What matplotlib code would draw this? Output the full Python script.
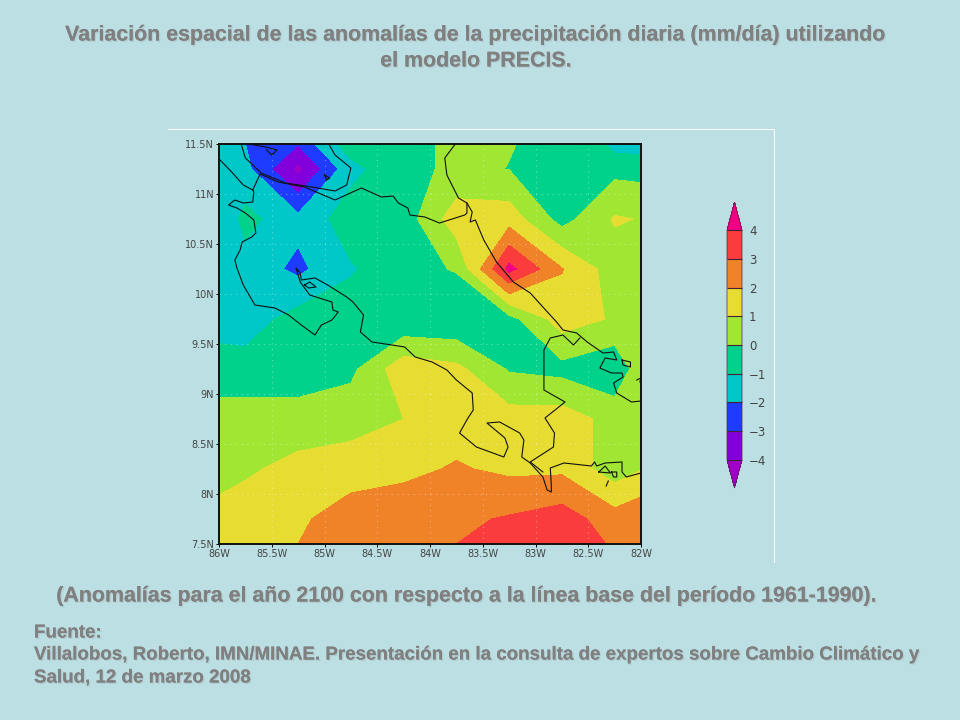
import matplotlib
matplotlib.use('Agg')
import matplotlib.pyplot as plt
import matplotlib.patheffects as pe
from matplotlib.lines import Line2D
import numpy as np

# model grid, degrees west / north
lons = [86.25, 85.75, 85.25, 84.75, 84.25, 83.75, 83.25, 82.75, 82.25, 81.75]
lats = [11.75, 11.25, 10.75, 10.25, 9.75, 9.25, 8.75, 8.25, 7.75, 7.25]

# precipitation anomaly (mm/day), north to south
anom_1175 = [-1.5, -2.3, -1.6, 0.2, -0.3, 0.2, 0.1, -0.2, -2.5, -2.8]
anom_1125 = [-1.4, -1.7, -4.3, -1.3, -0.3, 0.2, -0.02, -0.6, -0.3, -0.4]
anom_1075 = [-3.0, -0.7, -1.7, -0.5, -0.55, 1.55, 1.55, -0.4, 1.1, 0.8]
anom_1025 = [-1.7, -1.4, -2.24, -1.1, -0.4, 0.08, 4.3, 2.05, 0.48, 0.5]
anom_975 = [-1.3, -1.5, -0.6, -0.5, -0.9, -0.9, -0.35, 1.5, 0.88, 0.5]
anom_925 = [-0.6, -0.6, -0.6, -0.25, 1.65, 1.25, -0.1, -0.33, -0.8, 2.0]
anom_875 = [0.45, 0.45, 0.45, 0.62, 1.0, 1.5, 1.43, 1.5, 0.64, 0.5]
anom_825 = [0.55, 0.85, 1.3, 1.47, 1.75, 2.1, 1.8, 1.8, 0.44, 1.44]
anom_775 = [1.1, 1.5, 1.8, 2.57, 2.64, 2.8, 3.1, 3.5, 2.44, 3.07]
anom_725 = [1.3, 1.7, 2.2, 2.8, 2.9, 3.2, 3.7, 3.7, 3.2, 3.0]

levels = [-4, -3, -2, -1, 0, 1, 2, 3, 4]
level_labels = ['\u22124', '\u22123', '\u22122', '\u22121', '0', '1', '2', '3', '4']
colors = ['#A000C8', '#8200DC', '#1E3CFF', '#00C8C8', '#00D28C',
          '#A0E632', '#E6DC32', '#F08228', '#FA3C3C', '#F00082']

x_ticks = [86, 85.5, 85, 84.5, 84, 83.5, 83, 82.5, 82]
x_labels = ['86W', '85.5W', '85W', '84.5W', '84W', '83.5W', '83W', '82.5W', '82W']
y_ticks = [7.5, 8, 8.5, 9, 9.5, 10, 10.5, 11, 11.5]
y_labels = ['7.5N', '8N', '8.5N', '9N', '9.5N', '10N', '10.5N', '11N', '11.5N']

# map outlines as (lon W, lat N) pairs
pacific_coast = [(85.99, 11.34), (85.88, 11.22), (85.77, 11.09), (85.68, 11.04), (85.67, 11.02),
                 (85.68, 10.92), (85.77, 10.91), (85.85, 10.94), (85.91, 10.89), (85.83, 10.86),
                 (85.75, 10.81), (85.67, 10.74), (85.65, 10.61), (85.69, 10.57), (85.78, 10.52),
                 (85.80, 10.44), (85.85, 10.34), (85.83, 10.26), (85.77, 10.09), (85.66, 9.89),
                 (85.47, 9.86), (85.34, 9.79), (85.22, 9.69), (85.09, 9.59), (85.03, 9.69),
                 (84.93, 9.74), (84.87, 9.82), (84.92, 9.84), (84.93, 9.92), (85.14, 9.99),
                 (85.23, 10.12), (85.25, 10.19), (85.27, 10.26), (85.23, 10.21), (85.22, 10.14),
                 (85.09, 10.16), (84.97, 10.09), (84.79, 9.97), (84.73, 9.92), (84.63, 9.79),
                 (84.66, 9.62), (84.55, 9.52), (84.36, 9.49), (84.24, 9.47), (84.14, 9.37),
                 (83.98, 9.32), (83.84, 9.24), (83.75, 9.14), (83.60, 9.01), (83.59, 8.84),
                 (83.64, 8.76), (83.72, 8.61), (83.56, 8.47), (83.30, 8.37), (83.26, 8.47),
                 (83.29, 8.56), (83.46, 8.71), (83.34, 8.72), (83.15, 8.61), (83.11, 8.54),
                 (83.13, 8.37), (83.05, 8.31), (82.93, 8.17), (82.89, 8.04), (82.85, 8.02),
                 (82.85, 8.09), (82.86, 8.26), (82.73, 8.31), (82.47, 8.28), (82.44, 8.32),
                 (82.42, 8.28), (82.34, 8.31), (82.18, 8.32), (82.18, 8.22), (82.14, 8.17),
                 (82.0, 8.21)]
panama_border = [(82.93, 8.22), (83.05, 8.32), (82.83, 8.47), (82.82, 8.61), (82.91, 8.76),
                 (82.72, 8.92), (82.92, 9.04), (82.92, 9.44), (82.86, 9.56), (82.74, 9.59),
                 (82.64, 9.49), (82.58, 9.56)]
caribbean_coast = [(83.76, 11.5), (83.86, 11.36), (83.84, 11.19), (83.73, 10.96), (83.65, 10.91),
                   (83.60, 10.82), (83.62, 10.72), (83.57, 10.74), (83.49, 10.54), (83.37, 10.32),
                   (83.21, 10.12), (83.05, 10.01), (82.93, 9.87), (82.80, 9.72), (82.74, 9.64),
                   (82.61, 9.61), (82.51, 9.52), (82.36, 9.41), (82.26, 9.42), (82.23, 9.34),
                   (82.34, 9.36), (82.39, 9.26), (82.28, 9.21), (82.18, 9.21), (82.17, 9.17),
                   (82.26, 9.11), (82.23, 9.01), (82.09, 8.92), (82.0, 8.93)]
nicaragua_border = [(85.68, 11.04), (85.61, 11.20), (85.44, 11.12), (85.19, 11.07), (84.90, 10.94),
                    (84.65, 11.06), (84.46, 10.97), (84.35, 10.98), (84.30, 10.91), (84.21, 10.86),
                    (84.19, 10.79), (84.05, 10.77), (83.91, 10.71), (83.76, 10.76), (83.67, 10.79),
                    (83.65, 10.81), (83.65, 10.91)]
lake_nicaragua = [(85.79, 11.5), (85.75, 11.36), (85.60, 11.21), (85.37, 11.11), (85.12, 11.07),
                  (84.90, 11.03), (84.79, 11.09), (84.75, 11.26), (84.90, 11.39), (84.96, 11.5)]
lake_island = [(85.72, 11.5), (85.56, 11.47), (85.45, 11.44), (85.50, 11.39), (85.55, 11.44)]
small_islands = [
    [(85.0, 11.19), (84.98, 11.14), (84.95, 11.16), (85.0, 11.19)],
    [(85.19, 10.09), (85.14, 10.12), (85.08, 10.07), (85.15, 10.06), (85.19, 10.09)],
    [(82.40, 8.22), (82.34, 8.28), (82.29, 8.21), (82.40, 8.22)],
    [(82.28, 8.22), (82.23, 8.22), (82.23, 8.17), (82.26, 8.17), (82.28, 8.22)],
    [(82.33, 8.08), (82.31, 8.13)],
    [(82.18, 9.34), (82.10, 9.32), (82.10, 9.27), (82.17, 9.29), (82.18, 9.34)],
    [(82.04, 9.14), (82.0, 9.16), (82.01, 9.12)],
]

title_lines = ['Variación espacial de las anomalías de la precipitación diaria (mm/día) utilizando',
               'el modelo PRECIS.']
subtitle = '(Anomalías para el año 2100 con respecto a la línea base del período 1961-1990).'
source_lines = ['Fuente:',
                'Villalobos, Roberto, IMN/MINAE. Presentación en la consulta de expertos sobre Cambio Climático y',
                'Salud, 12 de marzo 2008']

BG = '#BBDFE3'
TEXT = '#808080'

fig = plt.figure(figsize=(9.6, 7.2), dpi=100, facecolor=BG)
ax = fig.add_axes([219 / 960, 1 - 544 / 720, 422 / 960, 400 / 720])

anom = np.array([anom_1175, anom_1125, anom_1075, anom_1025, anom_975,
                 anom_925, anom_875, anom_825, anom_775, anom_725])
cs = ax.contourf(lons, lats, anom, levels=levels, colors=colors, extend='both')

ax.set_xlim(86, 82)
ax.set_ylim(7.5, 11.5)
ax.set_xticks(x_ticks, x_labels)
ax.set_yticks(y_ticks, y_labels)
ax.tick_params(length=2, width=0.7, labelsize=7, labelcolor='#444444', pad=1.5)
ax.grid(True, color='white', alpha=0.4, linestyle=(0, (1, 4)), linewidth=0.8)
for spine in ax.spines.values():
    spine.set_linewidth(1.4)
    spine.set_color('#111111')

outlines = [pacific_coast, panama_border, caribbean_coast, nicaragua_border,
            lake_nicaragua, lake_island] + small_islands
for outline in outlines:
    xs, ys = zip(*outline)
    ax.plot(xs, ys, color='#111111', linewidth=0.8)

# colour key, the box holds the two tips as well
cax = fig.add_axes([727 / 960, 1 - 488 / 720, 15 / 960, 286 / 720])
cbar = fig.colorbar(cs, cax=cax, extend='both', extendfrac=0.122, drawedges=True)
cbar.set_ticks(levels, labels=level_labels)
cbar.ax.tick_params(length=0, labelsize=8.5, labelcolor='#444444', pad=5)
cbar.outline.set_linewidth(0.5)
cbar.outline.set_edgecolor('#552244')
cbar.dividers.set_color('#442233')
cbar.dividers.set_linewidth(0.8)

# thin white edge left by the pasted map
fig.add_artist(Line2D([168 / 960, 774 / 960, 774 / 960], [1 - 129 / 720, 1 - 129 / 720, 1 - 562 / 720],
                      color='white', linewidth=0.8))

shadow = [pe.withSimplePatchShadow(offset=(1, -1), shadow_rgbFace='#A6B4B6', alpha=0.4), pe.Normal()]


def put_text(text, x, y, size, ha):
    fig.text(x / 960, 1 - y / 720, text, fontsize=size, fontweight='bold', color=TEXT,
             family='Liberation Sans', ha=ha, va='center', path_effects=shadow)


put_text(title_lines[0], 476, 35, 15.4, 'center')
put_text(title_lines[1], 476, 61, 15.4, 'center')
put_text(subtitle, 468, 596, 15.4, 'center')
put_text(source_lines[0], 34, 633, 13.5, 'left')
put_text(source_lines[1], 34, 655, 13.5, 'left')
put_text(source_lines[2], 34, 678, 13.5, 'left')

fig.savefig('out.png', dpi=100, facecolor=BG)
